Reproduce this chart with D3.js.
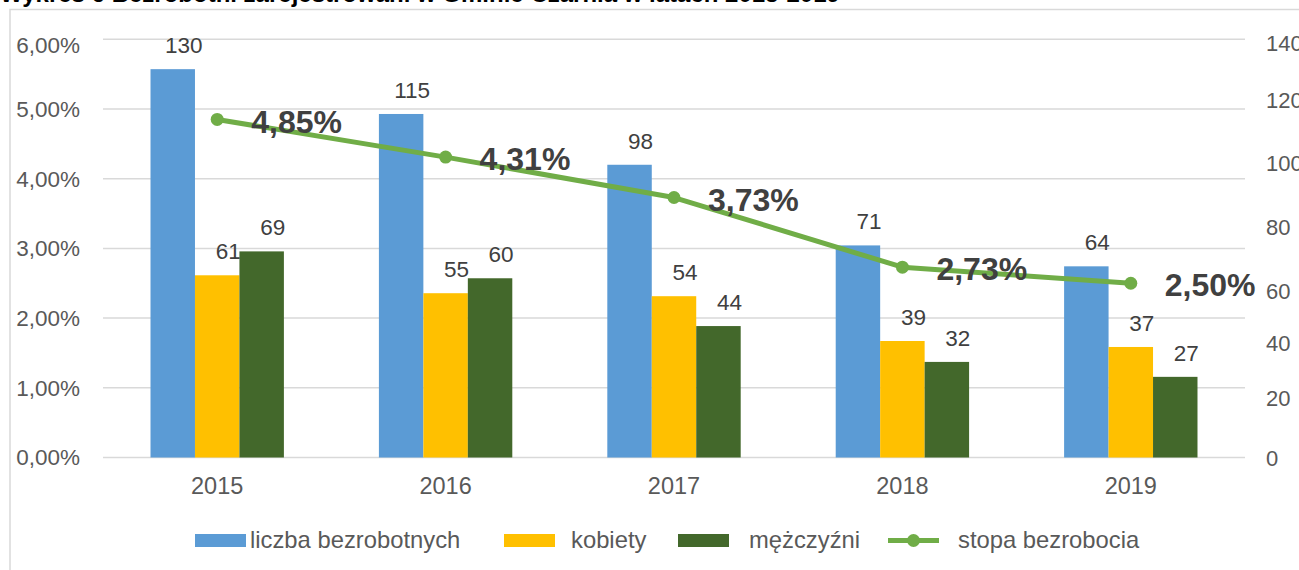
<!DOCTYPE html>
<html>
<head>
<meta charset="utf-8">
<script src="https://cdn.jsdelivr.net/npm/d3@7"></script>
<style>
  body { margin: 0; background: #fff; }
  svg { display: block; font-family: "Liberation Sans", Arial, sans-serif; }
</style>
</head>
<body>
<svg width="1299" height="570"></svg>
<script>
// data
var years = ["2015", "2016", "2017", "2018", "2019"];
var liczba = [130, 115, 98, 71, 64];
var kobiety = [61, 55, 54, 39, 37];
var mezczyzni = [69, 60, 44, 32, 27];
var stopa = [0.0485, 0.0431, 0.0373, 0.0273, 0.0250];
var leftTicks = [0, 0.01, 0.02, 0.03, 0.04, 0.05, 0.06];
var rightTicks = [0, 20, 40, 60, 80, 100, 120, 140];
var seriesNames = ["liczba bezrobotnych", "kobiety", "mężczyźni", "stopa bezrobocia"];
var title = "Wykres 6 Bezrobotni zarejestrowani w Gminie Czarnia w latach 2015-2019";

var colors = ["#5b9bd5", "#ffc000", "#43682b"];
var lineColor = "#70ad47";

var svg = d3.select("svg");
// plot area (note: "top" is taken by window.top, so use other names)
var plotLeft = 103, plotRight = 1245, plotTop = 39.3, plotBottom = 457.5;

// title, cut off at the top like in the source picture
svg.append("text")
    .attr("x", 0).attr("y", 1.5)
    .attr("font-size", 24).attr("font-weight", "bold").attr("fill", "#000")
    .text(title);

// chart frame (only left and top edge visible)
svg.append("path")
    .attr("d", "M10,570V9.5H1299")
    .attr("fill", "none").attr("stroke", "#d9d9d9").attr("stroke-width", 1.5);

var x0 = d3.scaleBand().domain(years).range([plotLeft, plotRight]).paddingInner(0.416).paddingOuter(0.208);
var x1 = d3.scaleBand().domain([0, 1, 2]).range([0, x0.bandwidth()]);
var yL = d3.scaleLinear().domain([0, 0.06]).range([plotBottom, plotTop]);
var yR = d3.scaleLinear().domain([0, 140]).range([plotBottom, plotTop]);
// right axis labels in the source sit unevenly; this scale only places those labels
var yRLabel = d3.scaleLinear().domain(rightTicks).range([458, 398, 343, 291, 227, 163, 100, 43]);

var pct = function(v) { return d3.format(".2f")(v * 100).replace(".", ",") + "%"; };

// gridlines
svg.append("g").selectAll("line")
  .data(leftTicks)
  .enter().append("line")
    .attr("x1", plotLeft).attr("x2", plotRight)
    .attr("y1", function(d) { return yL(d); }).attr("y2", function(d) { return yL(d); })
    .attr("stroke", "#d9d9d9").attr("stroke-width", 1.5);

// left axis labels
svg.append("g").selectAll("text")
  .data(leftTicks)
  .enter().append("text")
    .attr("x", 80)
    .attr("y", function(d) { return Math.max(yL(d), plotTop + 6); })
    .attr("dy", "0.35em")
    .attr("text-anchor", "end")
    .attr("font-size", 22.5).attr("fill", "#595959")
    .text(pct);

// right axis labels
svg.append("g").selectAll("text")
  .data(rightTicks)
  .enter().append("text")
    .attr("x", 1266)
    .attr("y", function(d) { return yRLabel(d); })
    .attr("dy", "0.35em")
    .attr("font-size", 22).attr("fill", "#595959")
    .text(function(d) { return d; });

// year labels
svg.append("g").selectAll("text")
  .data(years)
  .enter().append("text")
    .attr("x", function(d) { return x0(d) + x0.bandwidth() / 2; })
    .attr("y", 494)
    .attr("text-anchor", "middle")
    .attr("font-size", 23.5).attr("fill", "#595959")
    .text(function(d) { return d; });

// bars
var barSeries = [liczba, kobiety, mezczyzni];
barSeries.forEach(function(vals, s) {
  var g = svg.append("g");
  g.selectAll("rect")
    .data(vals)
    .enter().append("rect")
      .attr("x", function(d, i) { return x0(years[i]) + x1(s); })
      .attr("y", function(d) { return yR(d); })
      .attr("width", x1.bandwidth())
      .attr("height", function(d) { return plotBottom - yR(d); })
      .attr("fill", colors[s]);
  g.selectAll("text")
    .data(vals)
    .enter().append("text")
      .attr("x", function(d, i) { return x0(years[i]) + x1(s) + x1.bandwidth() / 2 + 11; })
      .attr("y", function(d) { return yR(d) - 24; })
      .attr("dy", "0.35em")
      .attr("text-anchor", "middle")
      .attr("font-size", 22.5).attr("fill", "#404040")
      .text(function(d) { return d; });
});

// unemployment rate line
var cx = function(d, i) { return x0(years[i]) + x0.bandwidth() / 2; };
var line = d3.line().x(cx).y(function(d) { return yL(d); });

svg.append("path")
    .datum(stopa)
    .attr("d", line)
    .attr("fill", "none").attr("stroke", lineColor).attr("stroke-width", 5)
    .attr("stroke-linejoin", "round");

svg.append("g").selectAll("circle")
  .data(stopa)
  .enter().append("circle")
    .attr("cx", cx).attr("cy", function(d) { return yL(d); })
    .attr("r", 6.5).attr("fill", lineColor);

svg.append("g").selectAll("text")
  .data(stopa)
  .enter().append("text")
    .attr("x", function(d, i) { return cx(d, i) + 34; })
    .attr("y", function(d) { return yL(d) + 2; })
    .attr("dy", "0.35em")
    .attr("font-size", 32).attr("font-weight", "bold").attr("fill", "#404040")
    .text(pct);

// legend
var legendX = [195, 504, 678, 888];
var legendTextX = [250, 571, 749, 958];
var lg = svg.append("g");
seriesNames.forEach(function(name, i) {
  if (i < 3) {
    lg.append("rect")
      .attr("x", legendX[i]).attr("y", 534)
      .attr("width", 51).attr("height", 13)
      .attr("fill", colors[i]);
  } else {
    lg.append("line")
      .attr("x1", legendX[i]).attr("x2", legendX[i] + 51)
      .attr("y1", 540.5).attr("y2", 540.5)
      .attr("stroke", lineColor).attr("stroke-width", 5);
    lg.append("circle")
      .attr("cx", legendX[i] + 25.5).attr("cy", 540.5)
      .attr("r", 6.5).attr("fill", lineColor);
  }
  lg.append("text")
    .attr("x", legendTextX[i]).attr("y", 548)
    .attr("font-size", 23.8).attr("fill", "#595959")
    .text(name);
});
</script>
</body>
</html>
